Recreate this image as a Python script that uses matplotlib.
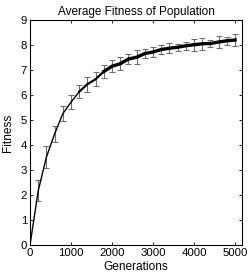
import matplotlib
matplotlib.use("Agg")
import matplotlib.pyplot as plt
import numpy as np

plt.rcParams['font.family'] = ['Liberation Sans', 'DejaVu Sans']

generations = [0, 200, 400, 600, 800, 1000, 1200, 1400, 1600, 1800, 2000, 2200, 2400,
               2600, 2800, 3000, 3200, 3400, 3600, 3800, 4000, 4200, 4400, 4600, 4800, 5000]
fitness = [0.0, 2.17, 3.52, 4.45, 5.26, 5.72, 6.14, 6.44, 6.64, 6.95, 7.16, 7.26, 7.45,
           7.52, 7.67, 7.73, 7.83, 7.88, 7.92, 7.98, 8.02, 8.06, 8.07, 8.13, 8.18, 8.21]
errors = [0.0, 0.42, 0.45, 0.33, 0.30, 0.29, 0.27, 0.30, 0.27, 0.25, 0.25, 0.25, 0.20,
          0.29, 0.19, 0.21, 0.20, 0.20, 0.15, 0.17, 0.25, 0.23, 0.13, 0.23, 0.15, 0.23]

x_ticks = [0, 1000, 2000, 3000, 4000, 5000]
y_ticks = list(range(0, 10))

fig = plt.figure(figsize=(2.49, 2.78), dpi=100)
ax = fig.add_axes([0.1205, 0.1187, 0.8515, 0.8083])

ax.errorbar(generations[1:], fitness[1:], yerr=errors[1:], fmt='none',
            ecolor='#6e6e6e', elinewidth=0.8, capsize=2, capthick=0.8, zorder=2)
ax.plot(generations[:7], fitness[:7], color='black', linewidth=1.0, zorder=3)
ax.plot(generations[6:10], fitness[6:10], color='black', linewidth=1.6, zorder=3)
ax.plot(generations[9:], fitness[9:], color='black', linewidth=2.4, zorder=3)

ax.set_xlim(0, 5170)
ax.set_ylim(0, 9)
ax.set_xticks(x_ticks)
ax.set_yticks(y_ticks)
ax.tick_params(direction='in', length=2.5, width=0.6, labelsize=8.2,
               top=True, right=True, pad=2)
for s in ax.spines.values():
    s.set_linewidth(0.8)

ax.set_title('Average Fitness of Population', fontsize=8.5, pad=4)
ax.set_xlabel('Generations', fontsize=8.6, labelpad=2)
ax.set_ylabel('Fitness', fontsize=8.6, labelpad=5)

fig.savefig('out.png', dpi=100)
